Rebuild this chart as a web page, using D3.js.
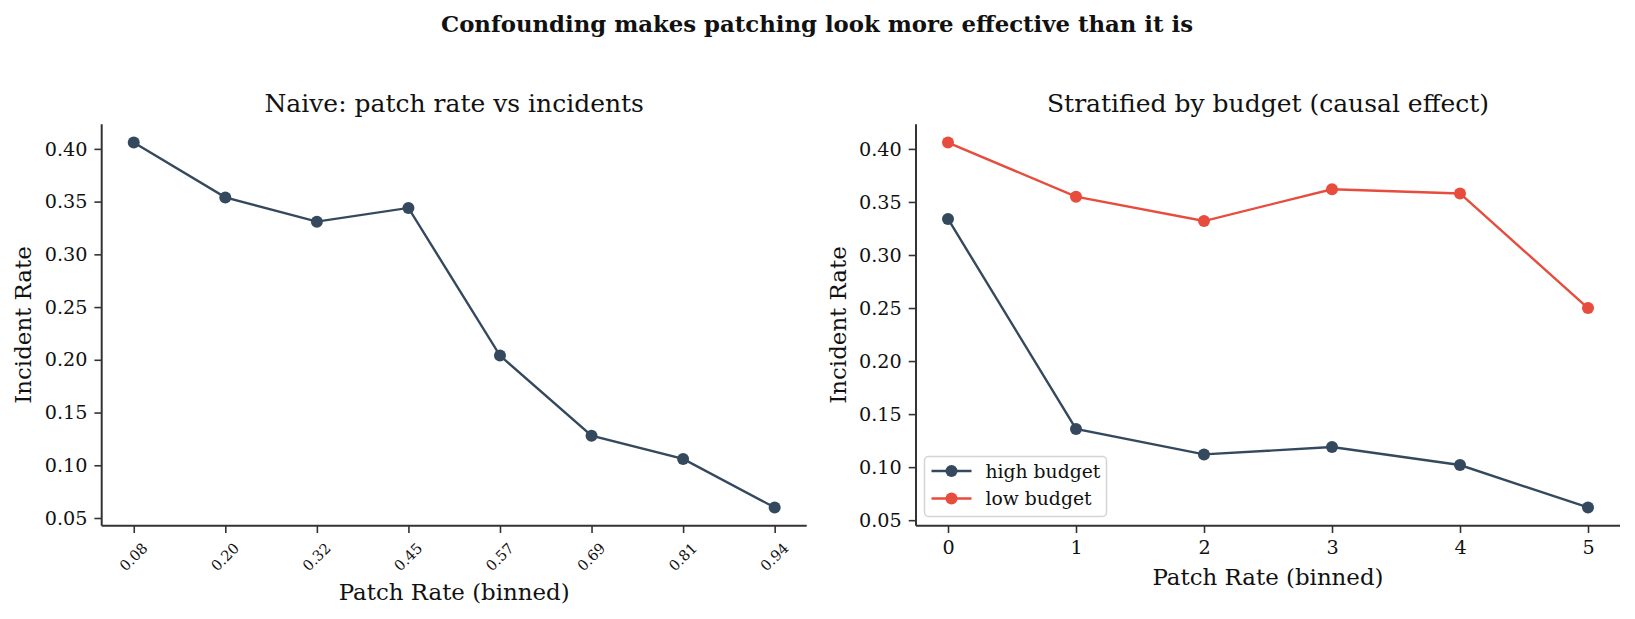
<!DOCTYPE html>
<html>
<head>
<meta charset="utf-8">
<script src="https://cdn.jsdelivr.net/npm/d3@7"></script>
<style>
  body { margin: 0; background: #fff; }
  text { font-family: "DejaVu Serif", serif; fill: #111; }
</style>
</head>
<body>
<div id="chart"></div>
<script>
// naive panel
const naiveBins = ['0.08', '0.20', '0.32', '0.45', '0.57', '0.69', '0.81', '0.94'];
const naiveRates = [0.406, 0.354, 0.331, 0.344, 0.204, 0.128, 0.106, 0.060];

// stratified panel
const stratBins = [0, 1, 2, 3, 4, 5];
const highBudget = [0.334, 0.136, 0.112, 0.119, 0.102, 0.062];
const lowBudget = [0.406, 0.355, 0.332, 0.362, 0.358, 0.250];

const yTicks = [0.05, 0.10, 0.15, 0.20, 0.25, 0.30, 0.35, 0.40];
const seriesNames = ['high budget', 'low budget'];
const colors = { 'high budget': '#34495e', 'low budget': '#e74c3c' };

const W = 1635, H = 619;
const svg = d3.select('#chart').append('svg')
    .attr('width', W).attr('height', H);

svg.append('text')
    .attr('x', 817).attr('y', 31.5)
    .attr('text-anchor', 'middle')
    .style('font-weight', 'bold')
    .style('font-size', '22.8px')
    .text('Confounding makes patching look more effective than it is');

const plotTop = 124.3, plotBottom = 525.7;
const tickLen = 7.3;

// matplotlib-like 5% margins
function pad(lo, hi) {
    const m = (hi - lo) * 0.05;
    return [lo - m, hi + m];
}

function drawAxes(left, right, x, y, title, xTickVals, xTickFmt, rotated) {
    const g = svg.append('g');

    // y axis
    const yAxis = g.append('g').attr('transform', `translate(${left},0)`)
        .call(d3.axisLeft(y).tickValues(yTicks).tickFormat(d3.format('.2f'))
            .tickSize(tickLen).tickPadding(7));
    yAxis.select('.domain').attr('d', `M0,${plotBottom}V${plotTop}`);
    yAxis.selectAll('line').attr('stroke', '#333').attr('stroke-width', 1.6);
    yAxis.selectAll('.domain').attr('stroke', '#333').attr('stroke-width', 2);
    yAxis.selectAll('text').style('font-size', '19.2px').style('font-family', '"DejaVu Serif", serif').attr('fill', '#111');

    // x axis
    const xAxis = g.append('g').attr('transform', `translate(0,${plotBottom})`)
        .call(d3.axisBottom(x).tickValues(xTickVals).tickFormat(xTickFmt)
            .tickSize(tickLen).tickPadding(7));
    xAxis.select('.domain').attr('d', `M${left},0H${right}`);
    xAxis.selectAll('line').attr('stroke', '#333').attr('stroke-width', 1.6);
    xAxis.selectAll('.domain').attr('stroke', '#333').attr('stroke-width', 2);
    const xt = xAxis.selectAll('text')
        .style('font-family', '"DejaVu Serif", serif').attr('fill', '#111');
    if (rotated) {
        xt.style('font-size', '14.6px')
          .attr('y', 0).attr('dy', null)
          .attr('text-anchor', 'middle')
          .attr('dominant-baseline', 'central')
          .attr('transform', 'translate(-1,31) rotate(-45)');
    } else {
        xt.style('font-size', '19.2px');
    }

    const cx = (left + right) / 2;
    g.append('text').attr('x', cx).attr('y', 111.5)
        .attr('text-anchor', 'middle').style('font-size', '25px').text(title);
    g.append('text').attr('x', cx).attr('y', rotated ? 600 : 585)
        .attr('text-anchor', 'middle').style('font-size', '22.9px').text('Patch Rate (binned)');
    g.append('text')
        .attr('transform', `translate(${left - 78.5},${(plotTop + plotBottom) / 2}) rotate(-90)`)
        .attr('text-anchor', 'middle').attr('dominant-baseline', 'central')
        .style('font-size', '22.9px').text('Incident Rate');
    return g;
}

function drawSeries(g, xs, vals, x, y, color) {
    const pts = xs.map((d, i) => [d, vals[i]]);
    g.append('path').datum(pts)
        .attr('fill', 'none').attr('stroke', color).attr('stroke-width', 2.4)
        .attr('d', d3.line().x(d => x(d[0])).y(d => y(d[1])));
    g.selectAll(null).data(pts).enter().append('circle')
        .attr('cx', d => x(d[0])).attr('cy', d => y(d[1]))
        .attr('r', 6).attr('fill', color);
}

// left panel
{
    const left = 101.7, right = 806.7;
    const idx = naiveBins.map((d, i) => i);
    const x = d3.scaleLinear().domain(pad(0, naiveBins.length - 1)).range([left, right]);
    const y = d3.scaleLinear().domain(pad(d3.min(naiveRates), d3.max(naiveRates))).range([plotBottom, plotTop]);
    const g = drawAxes(left, right, x, y, 'Naive: patch rate vs incidents', idx, i => naiveBins[i], true);
    drawSeries(g, idx, naiveRates, x, y, '#34495e');
}

// right panel
{
    const left = 916, right = 1620;
    const all = highBudget.concat(lowBudget);
    const x = d3.scaleLinear().domain(pad(d3.min(stratBins), d3.max(stratBins))).range([left, right]);
    const y = d3.scaleLinear().domain(pad(d3.min(all), d3.max(all))).range([plotBottom, plotTop]);
    const g = drawAxes(left, right, x, y, 'Stratified by budget (causal effect)', stratBins, d3.format('d'), false);
    drawSeries(g, stratBins, highBudget, x, y, colors['high budget']);
    drawSeries(g, stratBins, lowBudget, x, y, colors['low budget']);

    // legend
    const lg = g.append('g').attr('transform', 'translate(924.5,456.5)');
    lg.append('rect').attr('width', 182).attr('height', 60).attr('rx', 4)
        .attr('fill', '#fff').attr('fill-opacity', 0.8)
        .attr('stroke', '#d4d4d4').attr('stroke-width', 1.5);
    seriesNames.forEach((name, i) => {
        const yy = 14.5 + i * 27.5;
        lg.append('line').attr('x1', 7).attr('x2', 47).attr('y1', yy).attr('y2', yy)
            .attr('stroke', colors[name]).attr('stroke-width', 2.4);
        lg.append('circle').attr('cx', 27).attr('cy', yy).attr('r', 6).attr('fill', colors[name]);
        lg.append('text').attr('x', 61).attr('y', yy).attr('dominant-baseline', 'central')
            .style('font-size', '18.75px').text(name);
    });
}
</script>
</body>
</html>
